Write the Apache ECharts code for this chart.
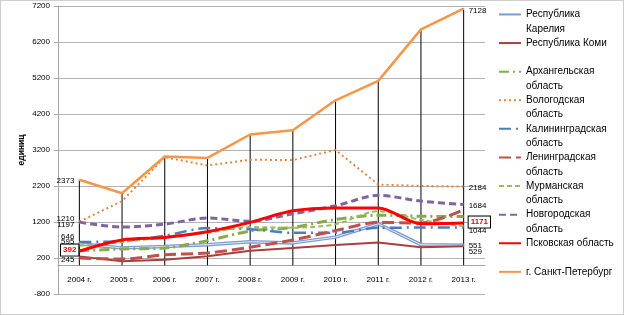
<!DOCTYPE html>
<html>
<head>
<meta charset="utf-8">
<script src="https://cdn.jsdelivr.net/npm/echarts@6/dist/echarts.min.js"></script>
<style>
html, body { margin: 0; padding: 0; background: #fff; }
#chart { width: 624px; height: 315px; }
#frame { position: absolute; left: 0; top: 0; width: 624px; height: 315px; box-sizing: border-box; border: 1px solid #cfcfcf; pointer-events: none; }
</style>
</head>
<body>
<div id="chart"></div>
<div id="frame"></div>
<script>
var years = ['2004 г.', '2005 г.', '2006 г.', '2007 г.', '2008 г.', '2009 г.', '2010 г.', '2011 г.', '2012 г.', '2013 г.'];

var karelia = [595, 480, 520, 570, 650, 620, 780, 1150, 570, 551];
var komi = [245, 110, 150, 250, 400, 480, 560, 630, 500, 529];
var arkhangelsk = [400, 450, 480, 680, 950, 1050, 1270, 1390, 1360, 1350];
var vologda = [1210, 1780, 3000, 2770, 2930, 2920, 3200, 2240, 2200, 2184];
var kaliningrad = [646, 670, 820, 1030, 1000, 900, 900, 1040, 1044, 1044];
var leningrad = [200, 170, 290, 340, 500, 700, 960, 1190, 1170, 1540];
var murmansk = [540, 640, 780, 900, 1060, 1040, 1140, 1500, 1260, 1080];
var novgorod = [1197, 1060, 1140, 1310, 1220, 1430, 1650, 1940, 1780, 1684];
var pskov = [392, 700, 770, 930, 1190, 1510, 1590, 1590, 1150, 1171];
var spb = [2373, 2000, 3020, 2980, 3630, 3750, 4580, 5120, 6550, 7128];

var yMin = -800, yMax = 7200, yStep = 1000;

var FONT = "'Liberation Sans', Arial, sans-serif";
var LH = 14.3;
var gridTop = 6, gridBottom = 21, H = 315;

// line look + vertical nudge of the labels at the first / last point
var lines = [
	{ name: 'Республика\nКарелия', data: karelia, color: '#7c9bd0', width: 3.5, dash: 'solid', smooth: false, first: -2, last: 0 },
	{ name: 'Республика Коми', data: komi, color: '#a9403e', width: 2, dash: 'solid', smooth: false, first: 3, last: 6 },
	{ name: 'Архангельская\nобласть', data: arkhangelsk, color: '#88a94c', width: 3, dash: [10, 4, 2, 4], smooth: 0.3 },
	{ name: 'Вологодская\nобласть', data: vologda, color: '#e8843c', width: 2, dash: [2, 3], smooth: false, first: -3, last: 1 },
	{ name: 'Калининградская\nобласть', data: kaliningrad, color: '#4a7ebb', width: 2.5, dash: [12, 5, 2, 5], smooth: 0.3, first: -5, last: 3.5 },
	{ name: 'Ленинградская\nобласть', data: leningrad, color: '#c0504d', width: 3, dash: [12, 5], smooth: 0.3 },
	{ name: 'Мурманская\nобласть', data: murmansk, color: '#9bbb59', width: 2, dash: [5, 3], smooth: 0.3 },
	{ name: 'Новгородская\nобласть', data: novgorod, color: '#8064a2', width: 3, dash: [7, 4], smooth: 0.3, first: 3, last: 1 },
	{ name: 'Псковская область', data: pskov, color: '#ff0000', width: 3, dash: 'solid', smooth: 0.3, first: -1, last: -1, boxed: true },
	{ name: 'г. Санкт-Петербург', data: spb, color: '#f79646', width: 2.5, dash: 'solid', smooth: false, first: 1, last: 2 }
];

function labelFor(l, side) {
	var lab = {
		show: true,
		position: side,
		distance: 5,
		fontFamily: FONT,
		fontSize: 8,
		color: '#000'
	};
	if (l.boxed) {
		lab.color = '#ff0000';
		lab.fontWeight = 'bold';
		lab.borderColor = '#000';
		lab.borderWidth = 1;
		lab.padding = [2, 2, 1, 2];
		lab.backgroundColor = '#fff';
		lab.distance = side === 'left' ? 1 : 5;
	}
	return lab;
}

var series = [{
	name: 'drop',
	type: 'bar',
	data: spb,
	barWidth: 1,
	silent: true,
	z: 1,
	itemStyle: { color: '#000' }
}];

lines.forEach(function(l) {
	var n = l.data.length;
	series.push({
		name: l.name,
		type: 'line',
		data: l.data.map(function(v, i) {
			if (i === 0 && l.first !== undefined) return { value: v, label: labelFor(l, 'left') };
			if (i === n - 1 && l.last !== undefined) return { value: v, label: labelFor(l, 'right') };
			return v;
		}),
		symbol: 'circle',
		symbolSize: 0,
		showSymbol: true,
		smooth: l.smooth,
		z: l.boxed ? 4 : 3,
		lineStyle: { color: l.color, width: l.width, type: l.dash },
		itemStyle: { color: l.color },
		labelLayout: function(p) {
			var dy = p.dataIndex === 0 ? l.first : l.last;
			return { dy: dy || 0, hideOverlap: false };
		}
	});
	if (l.name === 'Республика\nКарелия') {
		series.push({
			name: 'karelia-inner',
			type: 'line',
			data: l.data,
			symbol: 'none',
			silent: true,
			z: 3,
			lineStyle: { color: '#e3eaf5', width: 1 }
		});
	}
});

var legendData = lines.map(function(l) {
	if (l.name.indexOf('\n') >= 0) return l.name;
	return { name: l.name, textStyle: { padding: [LH, 0, LH, 0] } };
});

// the category axis sits on the zero line, labels included
var zeroOffset = -(0 - yMin) / (yMax - yMin) * (H - gridTop - gridBottom);

var myChart = echarts.init(document.getElementById('chart'));
var option = {
	animation: false,
	grid: { left: 58, right: 139, top: gridTop, bottom: gridBottom, outerBoundsMode: 'none' },
	legend: {
		orient: 'vertical',
		left: 498,
		top: -7,
		padding: 0,
		itemGap: -LH,
		itemWidth: 22,
		itemHeight: 14,
		selectedMode: false,
		itemStyle: { opacity: 0 },
		formatter: function(name) {
			// blank first line so the first real line sits level with the icon
			return name.indexOf('\n') >= 0 ? '\n' + name : name;
		},
		textStyle: {
			fontFamily: FONT,
			fontSize: 10,
			color: '#000',
			lineHeight: LH,
			backgroundColor: 'rgba(0,0,0,0)'
		},
		data: legendData
	},
	xAxis: {
		type: 'category',
		data: years,
		boundaryGap: true,
		offset: zeroOffset,
		axisLine: { onZero: false, lineStyle: { color: '#a6a6a6', width: 1 } },
		axisTick: { show: false },
		axisLabel: { fontFamily: FONT, fontSize: 8, color: '#000', margin: 11 },
		splitLine: { show: false }
	},
	yAxis: {
		type: 'value',
		min: yMin,
		max: yMax,
		interval: yStep,
		name: 'единиц',
		nameLocation: 'middle',
		nameRotate: 90,
		nameGap: 32,
		nameMoveOverlap: false,
		nameTextStyle: { fontFamily: FONT, fontSize: 8.5, fontWeight: 'bold', color: '#000' },
		axisLine: { show: true, lineStyle: { color: '#a6a6a6' } },
		axisTick: { show: true, length: 4, lineStyle: { color: '#a6a6a6' } },
		axisLabel: {
			fontFamily: FONT, fontSize: 8, color: '#000', margin: 8,
			formatter: function(v) { return String(v); }
		},
		splitLine: { lineStyle: { color: '#b3b3b3', width: 1 } }
	},
	series: series
};
myChart.setOption(option);
</script>
</body>
</html>
